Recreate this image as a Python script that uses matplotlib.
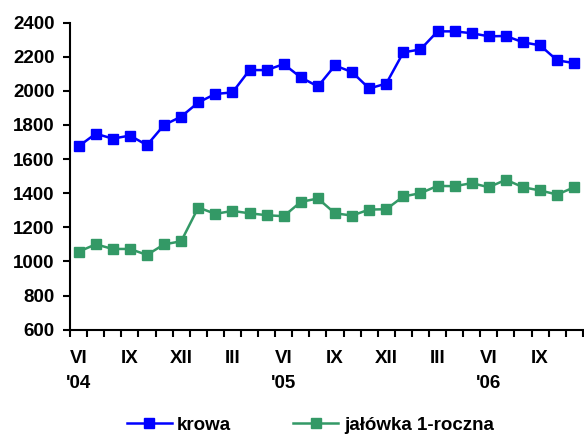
"""
Ceny bydła: krowa vs jałówka 1-roczna, VI 2004 - XI 2006
"""

import matplotlib
matplotlib.use("Agg")
import matplotlib.pyplot as plt
from matplotlib.ticker import FixedLocator, MultipleLocator

# monthly points VI '04 .. XI '06
n_points = 30

krowa = [1675, 1749, 1720, 1738, 1682, 1800, 1849, 1932, 1982, 1991,
         2122, 2122, 2157, 2079, 2026, 2149, 2110, 2014, 2043, 2226,
         2243, 2349, 2349, 2338, 2320, 2322, 2285, 2267, 2179, 2163]

jalowka = [1057, 1100, 1073, 1073, 1038, 1100, 1118, 1316, 1279, 1296,
           1282, 1271, 1265, 1349, 1369, 1282, 1269, 1304, 1306, 1381,
           1400, 1443, 1441, 1459, 1435, 1479, 1435, 1416, 1392, 1435]

tick_pos = [0, 3, 6, 9, 12, 15, 18, 21, 24, 27]
tick_labels = ["VI\n'04", "IX", "XII", "III", "VI\n'05", "IX", "XII", "III", "VI\n'06", "IX"]

plt.rcParams["font.family"] = ["Liberation Sans", "DejaVu Sans"]
plt.rcParams["font.weight"] = "bold"


def main():
    fig = plt.figure(figsize=(5.84, 4.36), dpi=100)
    ax = fig.add_axes([0.12, 0.244, 0.878, 0.704])

    x = list(range(n_points))
    ax.plot(x, krowa, color="#0000FF", linewidth=1.8, marker="s",
            markersize=7.6, label="krowa")
    ax.plot(x, jalowka, color="#339966", linewidth=1.8, marker="s",
            markersize=6.5, label="jałówka 1-roczna")

    ax.set_xlim(-0.5, n_points - 0.5)
    ax.set_ylim(600, 2400)
    ax.yaxis.set_major_locator(MultipleLocator(200))

    for side in ["top", "right"]:
        ax.spines[side].set_visible(False)
    for side in ["left", "bottom"]:
        ax.spines[side].set_linewidth(1.5)

    ax.tick_params(axis="y", direction="out", length=5, width=1.5,
                   pad=6, labelsize=13.5)
    ax.set_xticks(tick_pos)
    ax.set_xticklabels(tick_labels)
    ax.xaxis.set_minor_locator(FixedLocator([i - 0.5 for i in range(n_points + 1)]))
    ax.tick_params(axis="x", which="major", length=0, pad=15, labelsize=13.5)
    ax.tick_params(axis="x", which="minor", direction="out", length=5, width=1.5)
    for t in ax.get_xticklabels():
        t.set_linespacing(1.55)

    fig.legend(loc="center", bbox_to_anchor=(0.531, 0.025), ncol=2,
               frameon=False, fontsize=13.5, handlelength=2.4,
               handletextpad=0.3, columnspacing=3.3)

    fig.savefig("out.png", dpi=100)


if __name__ == "__main__":
    main()
